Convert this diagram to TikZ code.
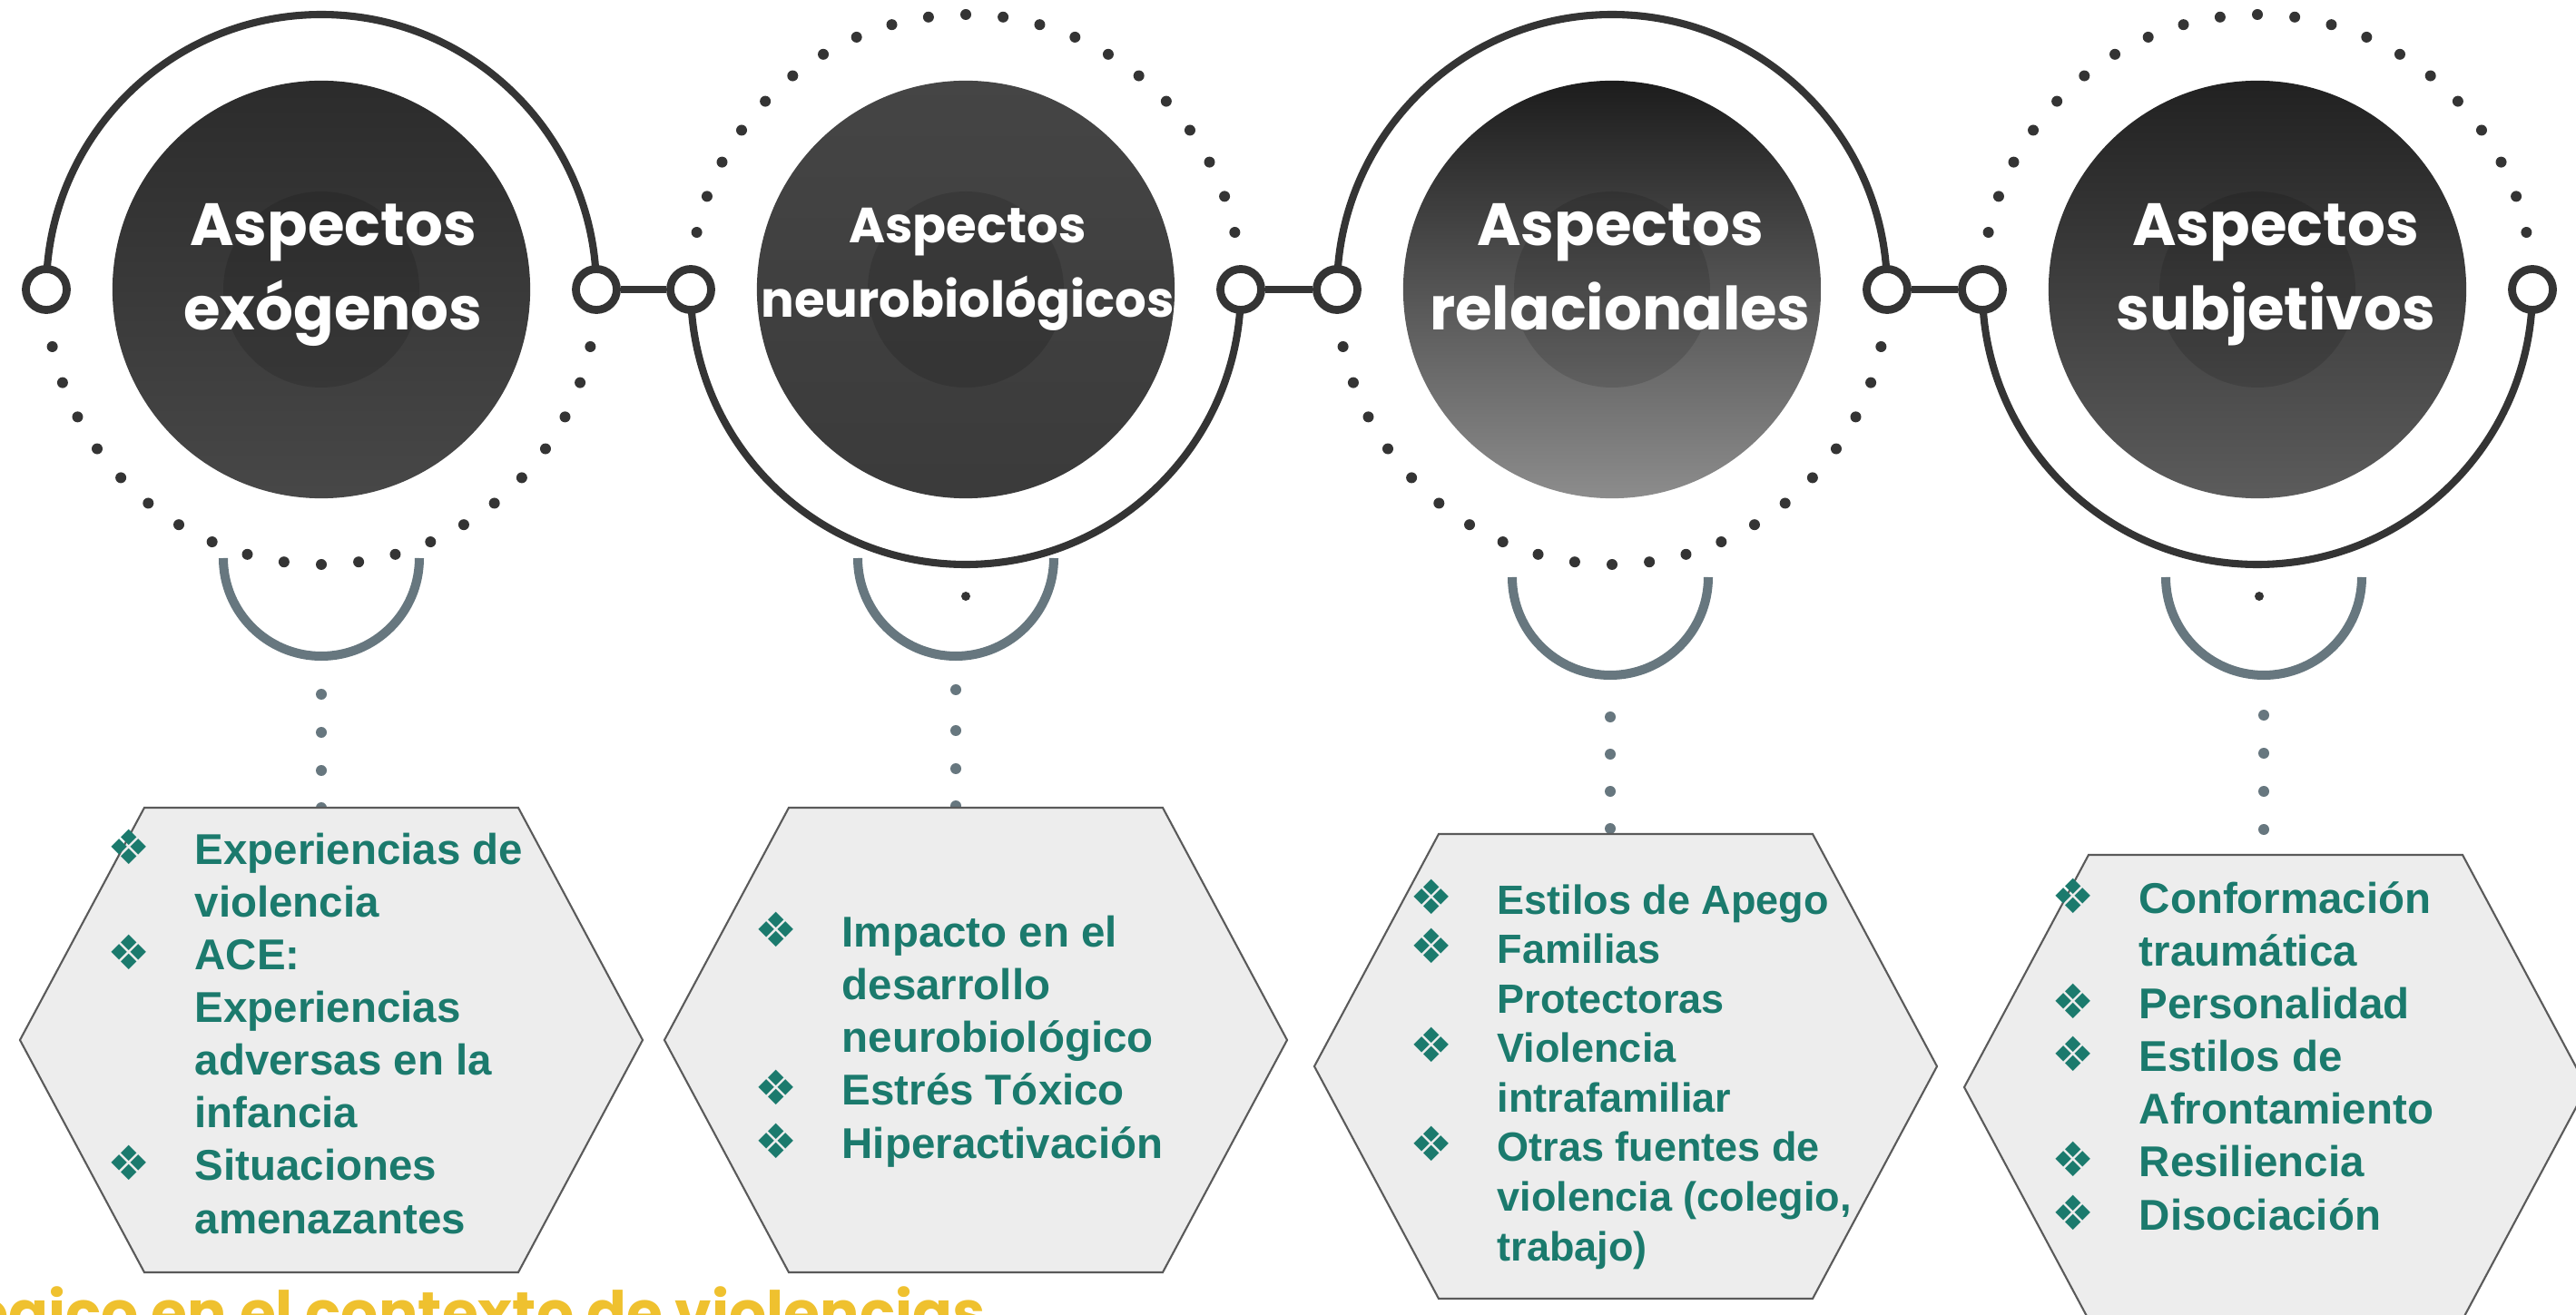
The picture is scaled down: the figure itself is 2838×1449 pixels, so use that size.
\documentclass[tikz,border=0pt]{standalone}
\usepackage{fontspec}
\setmainfont{Liberation Sans}
\newfontfamily\titlefont{Poppins}
\newfontfamily\symfont{DejaVu Sans}

\definecolor{ringgray}{HTML}{343434}
\definecolor{arcgray}{HTML}{67777F}
\definecolor{itemteal}{HTML}{1B7A6D}
\definecolor{hexfill}{HTML}{EDEDED}
\definecolor{hexline}{HTML}{5A5A5A}
\definecolor{titleyellow}{HTML}{EFC12F}

% bullet hanging left of the item text
\newcommand{\itm}{\llap{\makebox[1.46cm][c]{\symfont\fontsize{15pt}{16pt}\selectfont ❖}}}

\begin{document}
\begin{tikzpicture}[x=0.01cm, y=0.01cm,
  ring/.style={draw=ringgray, line width=2.3pt},
  knob/.style={circle, draw=ringgray, line width=2.5pt, fill=white, minimum size=0.45cm, inner sep=0pt},
  core/.style={circle, minimum size=4.6cm, inner sep=0pt},
  heading/.style={text=white, align=center, anchor=base, inner sep=0pt,
    font=\titlefont\bfseries\fontsize{18.7pt}{26.7pt}\selectfont},
  hexbox/.style={draw=hexline, line width=0.6pt, fill=hexfill},
  itemlist/.style={text=itemteal, align=left, anchor=base west, inner sep=0pt,
    font=\bfseries\fontsize{13.5pt}{16.5pt}\selectfont},
  stem/.style={draw=arcgray, line width=2.85pt}
]

\path[use as bounding box] (0,0) rectangle (2838,-1449);
\clip (0,0) rectangle (2838,-1449);

% Rings: solid halves
\draw[ring] (657,-319) arc[start angle=0, end angle=180, radius=303];
\draw[ring] (761,-319) arc[start angle=180, end angle=360, radius=303];
\draw[ring] (2079,-319) arc[start angle=0, end angle=180, radius=303];
\draw[ring] (2184,-319) arc[start angle=180, end angle=360, radius=303];

% Rings: dotted halves
\foreach \k in {-10,...,10} {
  \fill[ringgray] (354,-319) ++(270+7.8*\k:303) circle (6);
  \fill[ringgray] (1064,-319) ++(90+7.8*\k:303) circle (6);
  \fill[ringgray] (1776,-319) ++(270+7.8*\k:303) circle (6);
  \fill[ringgray] (2487,-319) ++(90+7.8*\k:303) circle (6);
}

% Dark disks
\node[core, top color=black!83, bottom color=black!72] (d1) at (354,-319) {};
\node[core, top color=black!73, bottom color=black!77] (d2) at (1064,-319) {};
\node[core, top color=black!89, bottom color=black!45] (d3) at (1776,-319) {};
\node[core, top color=black!87, bottom color=black!64] (d4) at (2487,-319) {};
\foreach \d in {d1,d2,d3,d4}
  \fill[black, opacity=0.13] (\d) circle (108);

% Knobs and links
\node[knob] (k1l) at (51,-319) {};
\node[knob] (k1r) at (657,-319) {};
\node[knob] (k2l) at (761,-319) {};
\node[knob] (k2r) at (1367,-319) {};
\node[knob] (k3l) at (1473,-319) {};
\node[knob] (k3r) at (2079,-319) {};
\node[knob] (k4l) at (2184,-319) {};
\node[knob] (k4r) at (2790,-319) {};
\draw[ring] (k1r) -- (k2l);
\draw[ring] (k2r) -- (k3l);
\draw[ring] (k3r) -- (k4l);

% Titles (placed at the baseline of the last line)
\node[heading] (t1) at (367,-364) {Aspectos\\exógenos};
\node[heading, font=\titlefont\bfseries\fontsize{15.5pt}{23.6pt}\selectfont] (t2) at (1066,-350) {Aspectos\\neurobiológicos};
\node[heading] (t3) at (1785,-364) {Aspectos\\relacionales};
\node[heading] (t4) at (2507,-364) {Aspectos\\subjetivos};

% Stems under the rings
\draw[stem] (246,-615) arc[start angle=180, end angle=360, radius=108];
\draw[stem] (945,-615) arc[start angle=180, end angle=360, radius=108];
\draw[stem] (1666,-636) arc[start angle=180, end angle=360, radius=108];
\draw[stem] (2386,-636) arc[start angle=180, end angle=360, radius=108];
\fill[ringgray] (1064,-657) circle (5);
\fill[ringgray] (2489,-657) circle (5);
\foreach \y in {765,807,849,890} \fill[arcgray] (354,-\y) circle (6);
\foreach \y in {760,805,847,888} \fill[arcgray] (1053,-\y) circle (6);
\foreach \y in {790,831,872,913} \fill[arcgray] (1774,-\y) circle (6);
\foreach \y in {788,830,872,914} \fill[arcgray] (2494,-\y) circle (6);

% Hexagons
\foreach \hx/\hy in {365/1146, 1075/1146, 1791/1175, 2507/1198}
  \draw[hexbox] (\hx-206,-\hy+256) -- ++(412,0) -- ++(137,-256) -- ++(-137,-256)
    -- ++(-412,0) -- ++(-137,256) -- cycle;

% Lists (placed at the baseline of the last line)
\node[itemlist] (l1) at (214,-1359) {\itm Experiencias de\\violencia\\\itm ACE:\\Experiencias\\adversas en la\\infancia\\\itm Situaciones\\amenazantes};
\node[itemlist] (l2) at (927,-1276) {\itm Impacto en el\\desarrollo\\neurobiológico\\\itm Estrés Tóxico\\\itm Hiperactivación};
\node[itemlist, font=\bfseries\fontsize{12.8pt}{15.5pt}\selectfont] (l3) at (1649,-1389) {\itm Estilos de Apego\\\itm Familias\\Protectoras\\\itm Violencia\\intrafamiliar\\\itm Otras fuentes de\\violencia (colegio,\\trabajo)};
\node[itemlist] (l4) at (2356,-1355) {\itm Conformación\\traumática\\\itm Personalidad\\\itm Estilos de\\Afrontamiento\\\itm Resiliencia\\\itm Disociación};

% Cut title at the bottom
\node[anchor=base east, inner sep=0pt, text=titleyellow, font=\titlefont\bfseries\fontsize{18.4pt}{23pt}\selectfont] (foot) at (1086,-1469) {lógico en el contexto de violencias};

\end{tikzpicture}
\end{document}
